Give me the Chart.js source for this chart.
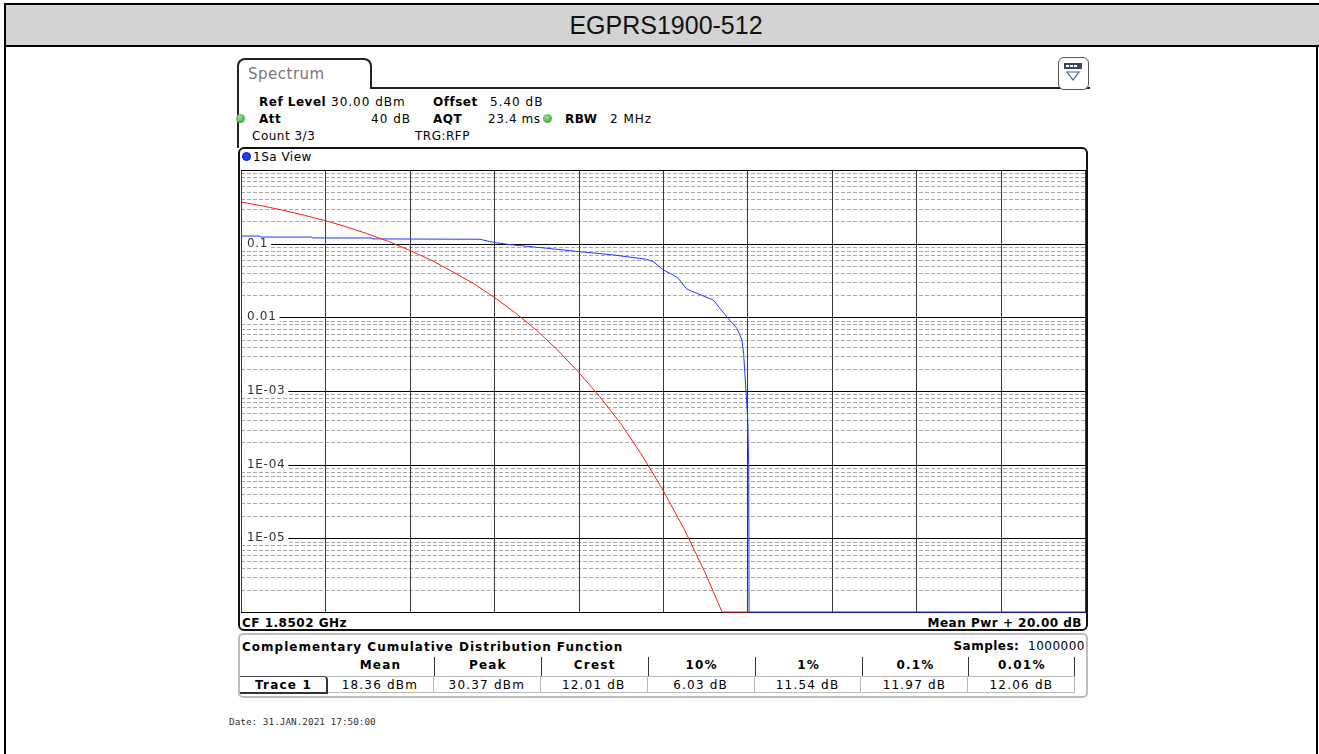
<!DOCTYPE html>
<html lang="en">
<head>
<meta charset="UTF-8">
<title>EGPRS1900-512 CCDF</title>
<script src="https://cdn.jsdelivr.net/npm/chart.js"></script>
<style>
  body { margin: 0; background: #fff; font-family: "DejaVu Sans", Verdana, sans-serif; }
  #page { position: relative; width: 1319px; height: 754px; overflow: hidden; }
  .abs { position: absolute; }
  .t { position: absolute; font-size: 12px; line-height: 14px; white-space: nowrap; color: #000; letter-spacing: 0.5px; }
  .b { font-weight: bold; }
  .dot { position: absolute; width: 9px; height: 9px; border-radius: 50%; box-sizing: border-box; }
  .green { background: radial-gradient(circle at 40% 35%, #9fdc98 0%, #52b352 60%, #3f9a3f 100%); }
  .hd, .vl { position: absolute; font-size: 12px; line-height: 17px; text-align: center; letter-spacing: 1.2px; box-sizing: border-box; }
  .hd { font-weight: bold; top: 657px; height: 19px; }
  .vl { top: 676px; height: 17px; border-top: 1px solid #bbb; border-bottom: 1px solid #bbb; }
</style>
</head>
<body>
<div id="page">
  <!-- page frame + title bar -->
  <div class="abs" style="left:4px;top:3px;width:1315px;height:2px;background:#000"></div>
  <div class="abs" style="left:6px;top:5px;width:1313px;height:40px;background:#d3d3d3"></div>
  <div class="abs" style="left:4px;top:45px;width:1315px;height:2px;background:#000"></div>
  <div class="abs" style="left:4px;top:3px;width:2px;height:751px;background:#000"></div>
  <div class="abs" style="left:1316px;top:47px;width:2px;height:707px;background:#000"></div>
  <div class="abs" style="left:466px;top:6px;width:400px;height:38px;line-height:38px;text-align:center;font-family:'Liberation Sans',Arial,sans-serif;font-size:25px;color:#111">EGPRS1900-512</div>

  <!-- Spectrum tab -->
  <div class="abs" style="left:237px;top:58px;width:135px;height:31px;border:2px solid #222;border-bottom:none;border-radius:8px 8px 0 0;box-sizing:border-box"></div>
  <div class="abs" style="left:371px;top:87px;width:719px;height:2px;background:#222"></div>
  <div class="abs" style="left:237px;top:85px;width:2px;height:63px;background:#222"></div>
  <div class="t" style="left:248px;top:66px;font-size:15px;line-height:17px;color:#777">Spectrum</div>
  <div class="abs" style="left:1058px;top:57px;width:31px;height:33px;border:1.5px solid #555;border-radius:6px;box-sizing:border-box;background:#fff">
    <svg width="28" height="30" viewBox="0 0 28 30">
      <rect x="5" y="5" width="18" height="6" fill="#3c4660"/>
      <rect x="7" y="7" width="3" height="2" fill="#fff"/>
      <rect x="11" y="7" width="3" height="2" fill="#fff"/>
      <rect x="15" y="7" width="3" height="2" fill="#fff"/>
      <path d="M8 14 L20 14 L14 22 Z" fill="#fff" stroke="#50607c" stroke-width="1.2"/>
    </svg>
  </div>

  <!-- settings -->
  <div class="t b" style="left:259px;top:95px">Ref Level</div>
  <div class="t" style="left:331px;top:95px;letter-spacing:1px">30.00 dBm</div>
  <div class="t b" style="left:433px;top:95px">Offset</div>
  <div class="t" style="left:490px;top:95px;letter-spacing:1px">5.40 dB</div>
  <div class="dot green" style="left:236px;top:114px"></div>
  <div class="t b" style="left:259px;top:112px">Att</div>
  <div class="t" style="left:350px;top:112px;width:61px;text-align:right;letter-spacing:1px">40 dB</div>
  <div class="t b" style="left:433px;top:112px">AQT</div>
  <div class="t" style="left:488px;top:112px;letter-spacing:0.6px">23.4 ms</div>
  <div class="dot green" style="left:543px;top:114px"></div>
  <div class="t b" style="left:565px;top:112px">RBW</div>
  <div class="t" style="left:610px;top:112px;letter-spacing:1px">2 MHz</div>
  <div class="t" style="left:252px;top:129px">Count 3/3</div>
  <div class="t" style="left:415px;top:129px">TRG:RFP</div>

  <!-- diagram frame -->
  <div class="abs" style="left:238px;top:147px;width:850px;height:484px;border:2px solid #111;border-radius:6px;box-sizing:border-box"></div>
  <div class="dot" style="left:242px;top:152px;background:#1f3cff;border:1px solid #0a1a90"></div>
  <div class="t" style="left:253px;top:150px">1Sa View</div>
  <canvas id="ccdf" class="abs" style="left:238px;top:168px" width="850" height="447"></canvas>
  <div class="t b" style="left:242px;top:616px">CF 1.8502 GHz</div>
  <div class="t b" style="left:800px;top:616px;width:282px;text-align:right">Mean Pwr + 20.00 dB</div>

  <!-- result table -->
  <div class="abs" style="left:238px;top:633px;width:850px;height:65px;border:2px solid #bdbdbd;border-radius:5px;box-sizing:border-box"></div>
  <div class="t b" style="left:242px;top:640px;letter-spacing:1px">Complementary Cumulative Distribution Function</div>
  <div class="t" style="left:800px;top:639px;width:285px;text-align:right"><span class="b">Samples:</span>&nbsp; 1000000</div>
  <div id="table"></div>
  <div class="abs" style="left:240px;top:676px;width:88px;height:18px;border-top:1px solid #444;border-right:2px solid #333;border-bottom:2px solid #333;border-top-right-radius:4px;box-sizing:border-box"></div>
  <div class="hd" style="left:240px;top:676px;width:87px;height:17px;line-height:18px">Trace 1</div>

  <div class="t" style="left:229px;top:715px;font-family:'DejaVu Sans Mono',monospace;font-size:9.4px;letter-spacing:0;color:#333">Date: 31.JAN.2021 17:50:00</div>
</div>

<script>
// x axis: dB above mean power, 10 divisions of 2 dB
const xTicks = [0, 2, 4, 6, 8, 10, 12, 14, 16, 18, 20];
// y axis: probability, decades from 1 down to 1E-06
const yDecades = [1, 0.1, 0.01, 1e-3, 1e-4, 1e-5, 1e-6];
const yTickValues = [0.1, 0.01, 1e-3, 1e-4, 1e-5];
const yTickLabels = ['0.1', '0.01', '1E-03', '1E-04', '1E-05'];

// red reference curve (gaussian noise)
const gaussDb = [0, 0.5, 1, 1.5, 2, 2.5, 3, 3.5, 4, 4.5, 5, 5.5, 6, 6.5, 7, 7.5, 8, 8.5, 9, 9.5, 10, 10.5, 11, 11.4, 12.04];
const gaussProb = [0.368, 0.326, 0.284, 0.243, 0.205, 0.169, 0.136, 0.107, 0.081, 0.060, 0.042, 0.029, 0.0187, 0.0115,
  0.0067, 0.0036, 0.0018, 0.00084, 0.00036, 0.000135, 4.5e-5, 1.34e-5, 3.4e-6, 1e-6, 1e-6];

// blue measured trace 1
const traceDb = [0, 0.45, 0.46, 1.68, 1.69, 3.10, 3.11, 5.66, 6.02, 6.45, 7.24, 8.03, 8.82, 9.61, 9.77, 10.01, 10.24,
  10.36, 10.56, 10.80, 11.19, 11.51, 11.75, 11.87, 11.91, 11.94, 11.98, 12.01, 12.03, 12.04, 20];
const traceProb = [0.127, 0.127, 0.123, 0.123, 0.1195, 0.1195, 0.116, 0.1148, 0.1032, 0.096, 0.0867, 0.0778, 0.0703,
  0.0614, 0.057, 0.044, 0.0376, 0.034, 0.0243, 0.0212, 0.0172, 0.0102, 0.00711, 0.00493, 0.00326, 0.00174,
  0.000757, 0.000405, 0.0001, 1e-6, 1e-6];

// statistics table
const statHeads = ['Mean', 'Peak', 'Crest', '10%', '1%', '0.1%', '0.01%'];
const statValues = ['18.36 dBm', '30.37 dBm', '12.01 dB', '6.03 dB', '11.54 dB', '11.97 dB', '12.06 dB'];

const table = document.getElementById('table');
const colW = 106.9;
statHeads.forEach((h, i) => {
  const left = 327 + i * colW;
  const hd = document.createElement('div');
  hd.className = 'hd';
  hd.style.left = left + 'px';
  hd.style.width = colW + 'px';
  if (i > 0) hd.style.borderLeft = '1.5px solid #333';
  if (i === statHeads.length - 1) hd.style.borderRight = '1.5px solid #333';
  hd.textContent = h;
  table.appendChild(hd);
  const vl = document.createElement('div');
  vl.className = 'vl';
  vl.style.left = left + 'px';
  vl.style.width = colW + 'px';
  vl.style.borderRight = '1px solid #bbb';
  vl.textContent = statValues[i];
  table.appendChild(vl);
});

function pts(xs, ys) {
  return xs.map((x, i) => ({ x: x, y: ys[i] }));
}

// analyzer style grid: solid decades, dashed minor lines, labels inside the plot
const analyzerGrid = {
  id: 'analyzerGrid',
  beforeDatasetsDraw(chart) {
    const ctx = chart.ctx;
    const a = chart.chartArea;
    const x = chart.scales.x;
    const y = chart.scales.y;
    const snap = p => Math.round(p) + 0.5;
    ctx.save();
    ctx.lineWidth = 1;

    ctx.strokeStyle = '#a8a8a8';
    ctx.setLineDash([4, 2]);
    for (let d = 1; d < yDecades.length; d++) {
      for (let m = 2; m <= 9; m++) {
        const py = snap(y.getPixelForValue(yDecades[d] * m));
        ctx.beginPath();
        ctx.moveTo(a.left, py);
        ctx.lineTo(a.right, py);
        ctx.stroke();
      }
    }
    ctx.setLineDash([]);

    ctx.strokeStyle = '#3a3a3a';
    xTicks.forEach(v => {
      const px = snap(x.getPixelForValue(v));
      ctx.beginPath();
      ctx.moveTo(px, a.top);
      ctx.lineTo(px, a.bottom + 1);
      ctx.stroke();
    });

    ctx.strokeStyle = '#000';
    yDecades.forEach(v => {
      const py = snap(y.getPixelForValue(v));
      ctx.beginPath();
      ctx.moveTo(a.left, py);
      ctx.lineTo(a.right + 1, py);
      ctx.stroke();
    });

    ctx.font = '12px "DejaVu Sans"';
    if ('letterSpacing' in ctx) ctx.letterSpacing = '0.7px';
    ctx.textBaseline = 'middle';
    yTickValues.forEach((v, i) => {
      const py = y.getPixelForValue(v);
      const w = ctx.measureText(yTickLabels[i]).width;
      ctx.fillStyle = '#fff';
      ctx.fillRect(a.left + 1, py - 5, w + 8, 10);
      ctx.fillStyle = '#333';
      ctx.fillText(yTickLabels[i], a.left + 6, py);
    });
    ctx.restore();
  }
};

new Chart(document.getElementById('ccdf'), {
  type: 'line',
  data: {
    datasets: [
      { label: 'Gauss', data: pts(gaussDb, gaussProb), borderColor: '#ff1a1a', borderWidth: 1, pointRadius: 0, tension: 0, clip: false },
      { label: 'Trace 1', data: pts(traceDb, traceProb), borderColor: '#2238ff', borderWidth: 1, pointRadius: 0, tension: 0, clip: false }
    ]
  },
  options: {
    responsive: false,
    animation: false,
    devicePixelRatio: 1,
    events: [],
    layout: { padding: { left: 3, top: 2, right: 3, bottom: 3 } },
    plugins: { legend: { display: false }, tooltip: { enabled: false } },
    scales: {
      x: { type: 'linear', min: 0, max: 20, display: false },
      y: { type: 'logarithmic', min: 1e-6, max: 1, display: false }
    }
  },
  plugins: [analyzerGrid]
});
</script>
</body>
</html>
